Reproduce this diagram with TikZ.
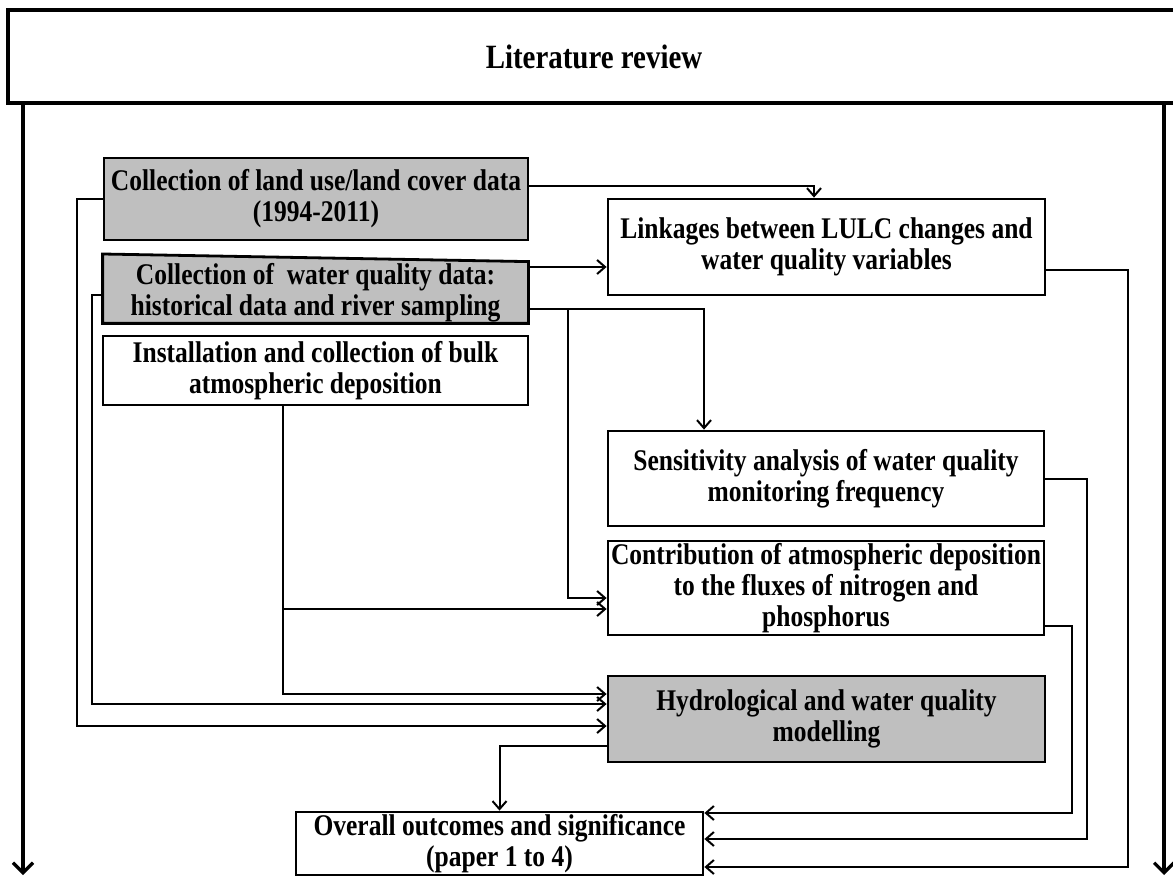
\documentclass[tikz,border=0pt]{standalone}
\usepackage{fontspec}
\setmainfont{Liberation Serif}[FakeStretch=0.85]
\usetikzlibrary{arrows.meta,backgrounds}
\definecolor{boxgray}{RGB}{191,191,191}

\begin{document}
\begin{tikzpicture}[x=0.5pt,y=-0.5pt,
    font=\bfseries\fontsize{15}{15.5}\selectfont,
    stepbox/.style={draw,line width=1.4pt,align=center,inner sep=0pt},
    greybox/.style={stepbox,fill=boxgray},
    flow/.style={line width=1pt,-{Straight Barb[length=4pt,width=7pt]}},
    bigline/.style={line width=1.6pt,-{Straight Barb[length=5pt,width=10pt]}}]
    \useasboundingbox (0,0) rectangle (1173,877);
    % Literature review on top
    \node[stepbox,line width=1.8pt,minimum width=586pt,minimum height=46.5pt,font=\bfseries\fontsize{17}{18}\selectfont] (lit) at (594,56.5) {Literature review};
    % data collection (left column)
    \node[greybox,minimum width=212pt,minimum height=41pt] (lulc) at (316,199) {Collection of land use/land cover data\\(1994-2011)};
    \node[align=center,inner sep=0pt,minimum width=212.5pt,minimum height=30.5pt] (wq) at (315.5,292.5) {Collection of \ water quality data:\\historical data and river sampling};
    \begin{scope}[on background layer]
        \filldraw[fill=boxgray,line width=1.4pt] (wq.south west) -- (wq.west |- 0,254) -- (wq.north east) -- (wq.south east) -- cycle;
    \end{scope}
    \node[stepbox,minimum width=212.5pt,minimum height=34.5pt] (bulk) at (315.5,370.5) {Installation and collection of bulk\\atmospheric deposition};
    % analyses (right column)
    \node[stepbox,minimum width=218.5pt,minimum height=48pt] (linkage) at (826.5,247) {Linkages between LULC changes and\\water quality variables};
    \node[stepbox,minimum width=218pt,minimum height=47.5pt] (sens) at (826,478.5) {Sensitivity analysis of water quality\\monitoring frequency};
    \node[stepbox,minimum width=218pt,minimum height=47pt] (contr) at (826,588) {Contribution of atmospheric deposition\\to the fluxes of nitrogen and\\phosphorus};
    \node[greybox,minimum width=218.5pt,minimum height=43pt] (hydro) at (826.5,719) {Hydrological and water quality\\modelling};
    \node[stepbox,minimum width=203.5pt,minimum height=31.5pt] (overall) at (499.5,843.5) {Overall outcomes and significance\\(paper 1 to 4)};
    % connectors
    \coordinate (wqsplit) at (568,309);
    \coordinate (bulksplit) at (283,609);
    \draw[flow] (lulc.east |- 0,186) -| (linkage.north -| 814,0);
    \draw[flow] (wq.east |- 0,267) -- (linkage.west |- 0,267);
    \draw[flow] (wq.east |- wqsplit) -| (sens.north -| 704,0);
    \draw[flow] (wqsplit) |- (contr.west |- 0,598);
    \draw[flow] (bulk.south -| bulksplit) |- (hydro.west |- 0,694);
    \draw[flow] (bulksplit) -- (contr.west |- bulksplit);
    \draw[flow] (wq.west |- 0,295) -- ++(-11,0) |- (hydro.west |- 0,704);
    \draw[flow] (lulc.west) -- ++(-26,0) |- (hydro.west |- 0,726);
    \draw[flow] (hydro.west |- 0,746) -| (overall.north);
    \draw[flow] (linkage.east |- 0,270) -- ++(82,0) |- (overall.east |- 0,867);
    \draw[flow] (sens.east |- 0,479) -- ++(42,0) |- (overall.east |- 0,839);
    \draw[flow] (contr.east |- 0,626) -- ++(27,0) |- (overall.east |- 0,813);
    % long side arrows
    \coordinate (leftend) at (23,875);
    \coordinate (rightend) at (1164,875);
    \draw[bigline] (lit.south -| leftend) -- (leftend);
    \draw[bigline] (lit.south -| rightend) -- (rightend);
\end{tikzpicture}
\end{document}
